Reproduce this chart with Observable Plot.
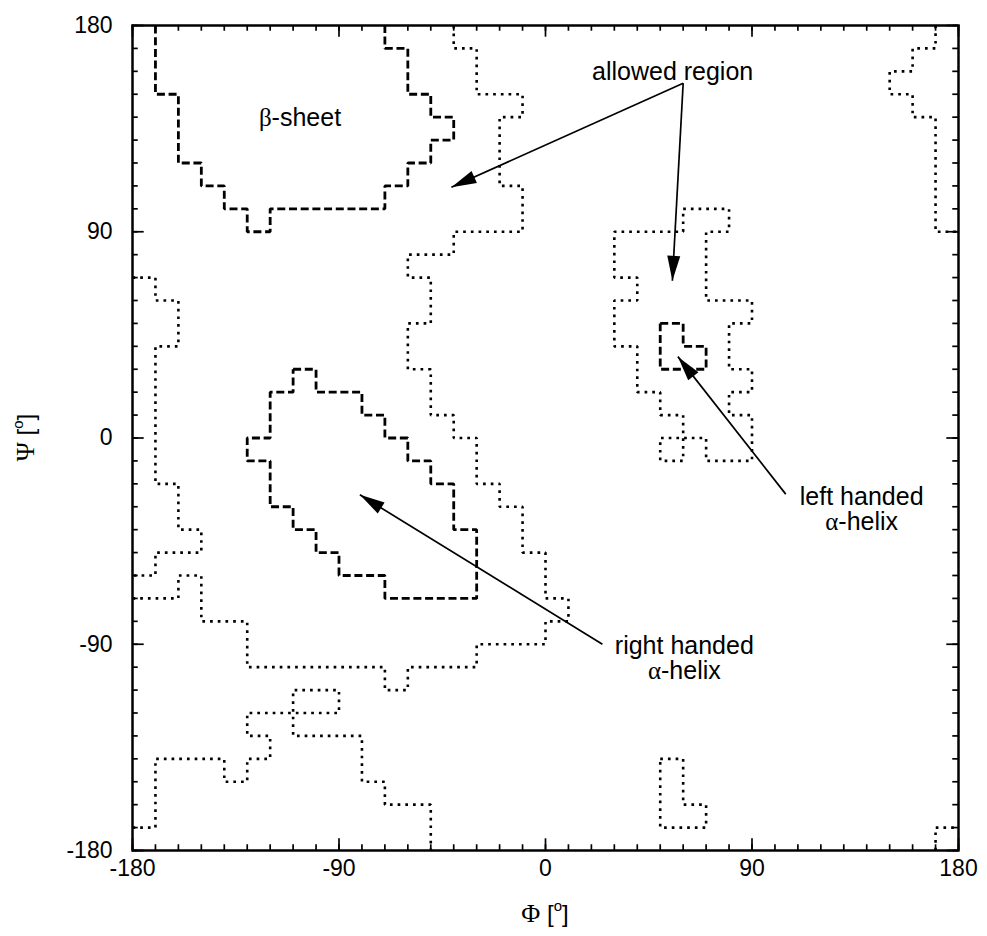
<!DOCTYPE html>
<html><head><meta charset="utf-8">
<script src="https://cdn.jsdelivr.net/npm/d3@7"></script>
<script src="https://cdn.jsdelivr.net/npm/@observablehq/plot@0.6"></script>
<style>body{margin:0;background:#fff} svg{display:block}</style>
</head><body><div id="chart"></div>
<script>
// ---- axis ticks ----
const majorTicks = [-180, -90, 0, 90, 180];
const minorTicks = d3.range(-180, 181, 10);

// ---- contours: [phi, psi] vertices (degrees) ----
// dashed: core (most favoured) regions
const betaSheet = [[-170,180],[-170,150],[-160,150],[-160,120],[-150,120],[-150,110],[-140,110],[-140,100],[-130,100],[-130,90],[-120,90],[-120,100],[-70,100],[-70,110],[-60,110],[-60,120],[-50,120],[-50,130],[-40,130],[-40,140],[-50,140],[-50,150],[-60,150],[-60,170],[-70,170],[-70,180]];
const rightHelixCore = [[-110,30],[-100,30],[-100,20],[-80,20],[-80,10],[-70,10],[-70,0],[-60,0],[-60,-10],[-50,-10],[-50,-20],[-40,-20],[-40,-40],[-30,-40],[-30,-70],[-70,-70],[-70,-60],[-90,-60],[-90,-50],[-100,-50],[-100,-40],[-110,-40],[-110,-30],[-120,-30],[-120,-10],[-130,-10],[-130,0],[-120,0],[-120,20],[-110,20],[-110,30]];
const leftHelixCore = [[50,50],[60,50],[60,40],[70,40],[70,30],[50,30],[50,50]];
// dotted: allowed regions
const allowedMain = [[-180,-70],[-160,-70],[-160,-60],[-150,-60],[-150,-80],[-130,-80],[-130,-100],[-70,-100],[-70,-110],[-60,-110],[-60,-100],[-30,-100],[-30,-90],[0,-90],[0,-80],[10,-80],[10,-70],[0,-70],[0,-50],[-10,-50],[-10,-30],[-20,-30],[-20,-20],[-30,-20],[-30,0],[-40,0],[-40,10],[-50,10],[-50,30],[-60,30],[-60,50],[-50,50],[-50,70],[-60,70],[-60,80],[-40,80],[-40,90],[-10,90],[-10,110],[-20,110],[-20,140],[-10,140],[-10,150],[-30,150],[-30,170],[-40,170],[-40,180]];
const allowedLeftEdge = [[-180,70],[-170,70],[-170,60],[-160,60],[-160,40],[-170,40],[-170,-20],[-160,-20],[-160,-40],[-150,-40],[-150,-50],[-170,-50],[-170,-60],[-180,-60]];
const allowedRightTop = [[170,180],[170,170],[160,170],[160,160],[150,160],[150,150],[160,150],[160,140],[170,140],[170,90],[180,90]];
const allowedLeftHelix = [[60,100],[80,100],[80,90],[70,90],[70,60],[90,60],[90,50],[80,50],[80,30],[90,30],[90,20],[80,20],[80,10],[90,10],[90,-10],[70,-10],[70,0],[50,0],[50,-10],[60,-10],[60,10],[50,10],[50,20],[40,20],[40,40],[30,40],[30,60],[40,60],[40,70],[30,70],[30,90],[60,90],[60,100]];
const allowedBottom = [[-180,-170],[-170,-170],[-170,-140],[-140,-140],[-140,-150],[-130,-150],[-130,-140],[-120,-140],[-120,-130],[-130,-130],[-130,-120],[-90,-120],[-90,-110],[-110,-110],[-110,-130],[-80,-130],[-80,-150],[-70,-150],[-70,-160],[-50,-160],[-50,-180]];
const allowedL = [[50,-140],[60,-140],[60,-160],[70,-160],[70,-170],[50,-170],[50,-140]];
const allowedCorner = [[170,-180],[170,-170],[180,-170]];

// ---- annotations ----
const labelText = ["β-sheet", "allowed region", "right handed\nα-helix", "left handed\nα-helix"];
const labelPhi = [-107, 55.4, 60.5, 137.8];
const labelPsi = [139.8, 159.5, -96.3, -31.1];
// arrows: start -> end (tip)
const arrowPhi1 = [60, 60, 104.7, 24.8];
const arrowPsi1 = [154.8, 154.8, -24.5, -90];
const arrowPhi2 = [-41, 55.3, 57.7, -80.9];
const arrowPsi2 = [109.4, 68.6, 35.5, -24.8];

// ---- tables ----
const contourDefs = [
  ["betaSheet", "dashed", betaSheet],
  ["rightHelixCore", "dashed", rightHelixCore],
  ["leftHelixCore", "dashed", leftHelixCore],
  ["allowedMain", "dotted", allowedMain],
  ["allowedLeftEdge", "dotted", allowedLeftEdge],
  ["allowedRightTop", "dotted", allowedRightTop],
  ["allowedLeftHelix", "dotted", allowedLeftHelix],
  ["allowedBottom", "dotted", allowedBottom],
  ["allowedL", "dotted", allowedL],
  ["allowedCorner", "dotted", allowedCorner]
];
const rows = contourDefs.flatMap(([id, style, pts]) => pts.map(([phi, psi]) => ({id, style, phi, psi})));
const labels = labelText.map((t, i) => ({t, phi: labelPhi[i], psi: labelPsi[i]}));
const arrows = arrowPhi1.map((_, i) => ({x1: arrowPhi1[i], y1: arrowPsi1[i], x2: arrowPhi2[i], y2: arrowPsi2[i]}));

const SANS = "'Liberation Sans', Arial, Helvetica, sans-serif";
const SERIF = "'Liberation Serif', 'Times New Roman', serif";
const fmt = d => String(d);
const LO = -180, HI = 180;
const minorLen = 2.5, majorLen = 5.1;   // inward tick lengths, in degrees

const lineBase = {x: "phi", y: "psi", z: "id", stroke: "black", strokeWidth: 2.6, strokeLinecap: "butt", strokeLinejoin: "miter"};
const tickStyle = {stroke: "black", strokeWidth: 1.7};
const inwardTicks = (ticks, len) => [
  Plot.ruleX(ticks, {x: d => d, y1: LO, y2: LO + len, ...tickStyle}),
  Plot.ruleX(ticks, {x: d => d, y1: HI, y2: HI - len, ...tickStyle}),
  Plot.ruleY(ticks, {y: d => d, x1: LO, x2: LO + len, ...tickStyle}),
  Plot.ruleY(ticks, {y: d => d, x1: HI, x2: HI - len, ...tickStyle})
];

const chart = Plot.plot({
  width: 987, height: 936,
  marginLeft: 132, marginRight: 29, marginTop: 25, marginBottom: 86,
  x: {domain: [LO, HI], label: null},
  y: {domain: [LO, HI], label: null},
  style: {fontFamily: SANS, fontSize: "23px", background: "white", color: "black"},
  marks: [
    Plot.line(rows.filter(d => d.style === "dotted"), {...lineBase, strokeDasharray: "2.7,5"}),
    Plot.line(rows.filter(d => d.style === "dashed"), {...lineBase, strokeWidth: 2.8, strokeDasharray: "8,3.7"}),
    ...inwardTicks(minorTicks, minorLen),
    ...inwardTicks(majorTicks, majorLen),
    // tick labels
    Plot.axisX({anchor: "bottom", ticks: majorTicks, tickSize: 0, tickPadding: 9, tickFormat: fmt, fontSize: 23, label: null}),
    Plot.axisY({anchor: "left", ticks: majorTicks, tickSize: 0, tickPadding: 20, tickFormat: fmt, fontSize: 23, label: null}),
    Plot.frame({stroke: "black", strokeWidth: 2.5}),
    Plot.link(arrows, {x1: "x1", y1: "y1", x2: "x2", y2: "y2", stroke: "black", strokeWidth: 1.7}),
    Plot.text(labels, {x: "phi", y: "psi", text: "t", fontSize: 25, textAnchor: "middle", lineAnchor: "middle", lineHeight: 1, fill: "black"})
  ]
});
document.getElementById("chart").appendChild(chart);

// filled arrowheads
const svg = d3.select(chart);
const defs = svg.insert("defs", ":first-child");
defs.append("marker")
  .attr("id", "ahead").attr("viewBox", "-26 -8 27 16").attr("refX", 0).attr("refY", 0)
  .attr("markerWidth", 27).attr("markerHeight", 16).attr("markerUnits", "userSpaceOnUse").attr("orient", "auto")
  .append("path").attr("d", "M0,0L-25,-6.5L-25,6.5Z").attr("fill", "black");
svg.selectAll('g[aria-label="link"] path').attr("marker-end", "url(#ahead)");

// Greek letters in a serif (Symbol-like) face
function serifGreek(el) {
  const nodes = [];
  const walk = n => { n.childNodes.forEach(c => { if (c.nodeType === 3) nodes.push(c); else walk(c); }); };
  walk(el);
  nodes.forEach(tn => {
    const s = tn.nodeValue;
    if (!/[\u0370-\u03ff]/.test(s)) return;
    const parent = tn.parentNode;
    s.split(/([\u0370-\u03ff])/).forEach(part => {
      if (!part) return;
      if (/[\u0370-\u03ff]/.test(part)) {
        const ts = document.createElementNS("http://www.w3.org/2000/svg", "tspan");
        ts.setAttribute("font-family", SERIF);
        ts.textContent = part;
        parent.insertBefore(ts, tn);
      } else parent.insertBefore(document.createTextNode(part), tn);
    });
    parent.removeChild(tn);
  });
}
svg.selectAll('g[aria-label="text"] text').each(function () { serifGreek(this); });

// axis titles with superscript degree "o"
function axisTitle(g, letter) {
  const t = g.append("text").attr("text-anchor", "middle").attr("font-family", SANS).attr("font-size", 24).attr("fill", "black");
  t.append("tspan").attr("font-family", SERIF).attr("font-size", 26).text(letter);
  t.append("tspan").text(" [");
  t.append("tspan").attr("font-size", 15).attr("dy", -11).text("o");
  t.append("tspan").attr("dy", 11).text("]");
}
axisTitle(svg.append("g").attr("transform", "translate(545,922)"), "Φ");
axisTitle(svg.append("g").attr("transform", "translate(34,437.5) rotate(-90)"), "Ψ");
</script>
</body></html>
